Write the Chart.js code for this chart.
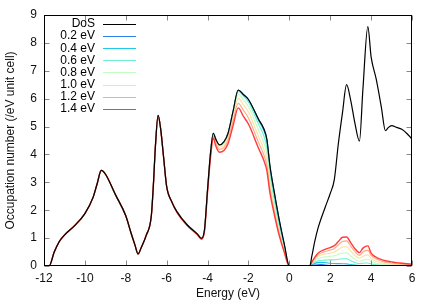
<!DOCTYPE html>
<html lang="en">
<head>
<meta charset="UTF-8">
<title>Occupation number vs energy</title>
<script src="https://cdn.jsdelivr.net/npm/chart.js@4.4.1/dist/chart.umd.min.js"></script>
<style>
  html, body { margin: 0; padding: 0; background: #fff; }
  #wrap { width: 436px; height: 305px; }
</style>
</head>
<body>
<div id="wrap"><canvas id="chart" width="436" height="305"></canvas></div>
<script>
// energy grid (eV), shared by every curve
const energy = [
  -12, -11.75, -11.5, -11.25, -11, -10.5, -10, -9.6, -9.4, -9.2,
  -9, -8.5, -8, -7.75, -7.55, -7.4, -7.25, -7, -6.75, -6.65,
  -6.55, -6.42, -6.3, -6.15, -6, -5.75, -5.5, -5, -4.5, -4.3,
  -4.15, -4, -3.85, -3.72, -3.6, -3.42, -3.2, -3, -2.75, -2.5,
  -2.25, -2, -1.5, -1.25, -1.1, -0.95, -0.75, -0.5, -0.25, 0,
  0.5, 1, 1.1, 1.25, 1.4, 1.75, 2, 2.2, 2.4, 2.6,
  2.8, 3, 3.2, 3.43, 3.6, 3.84, 4, 4.25, 4.5, 4.7,
  4.85, 5, 5.25, 5.5, 5.75, 6
];

const dos = [
  0, 0, 0.5, 0.88, 1.11, 1.45, 1.88, 2.46, 2.95, 3.43,
  3.3, 2.55, 1.8, 1.2, 0.75, 0.43, 0.65, 1.1, 1.8, 2.9,
  4.3, 5.4, 4.95, 3.9, 2.85, 2.3, 1.95, 1.48, 1.15, 0.99,
  1.3, 2.75, 4.1, 4.76, 4.55, 4.34, 4.45, 4.75, 5.55, 6.31,
  6.15, 5.97, 5.25, 4.92, 4.55, 3.6, 2.7, 1.68, 0.8, 0,
  0, 0, 0.35, 0.9, 1.35, 2.1, 2.6, 3.1, 4.4, 5.5,
  6.5, 5.95, 5.15, 4.48, 6.35, 8.58, 7.5, 6.7, 5.7, 4.85,
  4.97, 5.03, 4.97, 4.9, 4.75, 4.55
];

const occ02 = [
  0, 0, 0.5, 0.88, 1.11, 1.45, 1.88, 2.46, 2.95, 3.43,
  3.3, 2.55, 1.8, 1.2, 0.75, 0.43, 0.65, 1.1, 1.8, 2.9,
  4.3, 5.4, 4.95, 3.9, 2.85, 2.3, 1.95, 1.48, 1.15, 0.99,
  1.3, 2.75, 4.1, 4.76, 4.55, 4.34, 4.45, 4.75, 5.55, 6.31,
  6.15, 5.97, 5.25, 4.92, 4.55, 3.6, 2.7, 1.67, 0.78, 0,
  0, 0, 0.04, 0.07, 0.065, 0.035, 0.02, 0.012, 0.008, 0.005,
  0.003, 0.002, 0.001, 0, 0, 0, 0, 0, 0, 0,
  0, 0, 0, 0, 0, 0
];

const occ04 = [
  0, 0, 0.5, 0.88, 1.11, 1.45, 1.88, 2.46, 2.95, 3.43,
  3.3, 2.55, 1.8, 1.2, 0.75, 0.43, 0.65, 1.1, 1.8, 2.9,
  4.3, 5.4, 4.95, 3.9, 2.85, 2.3, 1.95, 1.48, 1.15, 0.99,
  1.3, 2.75, 4.1, 4.76, 4.55, 4.34, 4.45, 4.75, 5.55, 6.3,
  6.14, 5.96, 5.21, 4.86, 4.47, 3.51, 2.59, 1.55, 0.69, 0,
  0, 0, 0.05, 0.1, 0.13, 0.12, 0.1, 0.09, 0.085, 0.08,
  0.075, 0.05, 0.03, 0.02, 0.02, 0.02, 0.012, 0.007, 0.004, 0.003,
  0.002, 0.002, 0.001, 0.001, 0, 0
];

const occ06 = [
  0, 0, 0.5, 0.88, 1.11, 1.45, 1.88, 2.46, 2.95, 3.43,
  3.3, 2.55, 1.8, 1.2, 0.75, 0.43, 0.65, 1.1, 1.8, 2.9,
  4.3, 5.4, 4.95, 3.9, 2.85, 2.3, 1.95, 1.48, 1.15, 0.99,
  1.3, 2.75, 4.1, 4.76, 4.55, 4.33, 4.44, 4.74, 5.53, 6.27,
  6.09, 5.88, 5.07, 4.67, 4.25, 3.3, 2.4, 1.41, 0.62, 0,
  0, 0, 0.07, 0.15, 0.19, 0.21, 0.22, 0.22, 0.24, 0.26,
  0.26, 0.19, 0.13, 0.085, 0.1, 0.11, 0.07, 0.045, 0.03, 0.022,
  0.02, 0.017, 0.013, 0.01, 0.008, 0.006
];

const occ08 = [
  0, 0, 0.5, 0.88, 1.11, 1.45, 1.88, 2.46, 2.95, 3.43,
  3.3, 2.55, 1.8, 1.2, 0.75, 0.43, 0.65, 1.1, 1.8, 2.9,
  4.3, 5.4, 4.95, 3.9, 2.85, 2.3, 1.95, 1.48, 1.15, 0.99,
  1.3, 2.74, 4.08, 4.74, 4.52, 4.31, 4.41, 4.69, 5.46, 6.17,
  5.96, 5.72, 4.85, 4.42, 4.01, 3.1, 2.23, 1.31, 0.58, 0,
  0, 0, 0.09, 0.2, 0.27, 0.33, 0.35, 0.37, 0.42, 0.46,
  0.47, 0.36, 0.25, 0.17, 0.21, 0.24, 0.16, 0.1, 0.07, 0.05,
  0.045, 0.04, 0.03, 0.025, 0.02, 0.015
];

const occ10 = [
  0, 0, 0.5, 0.88, 1.11, 1.45, 1.88, 2.46, 2.95, 3.43,
  3.3, 2.55, 1.8, 1.2, 0.75, 0.43, 0.65, 1.1, 1.8, 2.9,
  4.3, 5.4, 4.95, 3.9, 2.85, 2.3, 1.95, 1.48, 1.14, 0.98,
  1.29, 2.72, 4.05, 4.69, 4.48, 4.26, 4.34, 4.61, 5.34, 6.01,
  5.78, 5.52, 4.63, 4.19, 3.79, 2.92, 2.1, 1.23, 0.54, 0,
  0, 0, 0.11, 0.25, 0.345, 0.43, 0.46, 0.5, 0.59, 0.68,
  0.69, 0.54, 0.38, 0.28, 0.35, 0.4, 0.27, 0.17, 0.12, 0.09,
  0.08, 0.07, 0.055, 0.045, 0.035, 0.025
];

const occ12 = [
  0, 0, 0.5, 0.88, 1.11, 1.45, 1.88, 2.46, 2.95, 3.43,
  3.3, 2.55, 1.8, 1.2, 0.75, 0.43, 0.65, 1.1, 1.8, 2.9,
  4.3, 5.4, 4.95, 3.9, 2.85, 2.3, 1.95, 1.47, 1.13, 0.97,
  1.27, 2.69, 3.99, 4.64, 4.4, 4.18, 4.25, 4.51, 5.2, 5.83,
  5.59, 5.31, 4.42, 3.99, 3.6, 2.77, 2.0, 1.17, 0.52, 0,
  0, 0, 0.125, 0.28, 0.4, 0.52, 0.57, 0.63, 0.76, 0.88,
  0.9, 0.71, 0.52, 0.38, 0.5, 0.57, 0.38, 0.25, 0.18, 0.14,
  0.125, 0.11, 0.088, 0.072, 0.058, 0.043
];

const occ14 = [
  0, 0, 0.5, 0.88, 1.11, 1.45, 1.88, 2.46, 2.95, 3.43,
  3.3, 2.55, 1.8, 1.2, 0.75, 0.43, 0.65, 1.1, 1.8, 2.9,
  4.3, 5.4, 4.95, 3.9, 2.85, 2.3, 1.92, 1.45, 1.12, 0.96,
  1.25, 2.64, 3.92, 4.58, 4.31, 4.08, 4.14, 4.38, 5.04, 5.67,
  5.37, 5.09, 4.21, 3.79, 3.42, 2.63, 1.9, 1.11, 0.5, 0,
  0, 0, 0.14, 0.32, 0.46, 0.6, 0.66, 0.73, 0.88, 1.03,
  1.04, 0.84, 0.63, 0.48, 0.64, 0.72, 0.46, 0.31, 0.23, 0.19,
  0.17, 0.15, 0.12, 0.1, 0.08, 0.06
];

const seriesLabels = ['DoS', '0.2 eV', '0.4 eV', '0.6 eV', '0.8 eV', '1.0 eV', '1.2 eV', '1.4 eV'];
const seriesValues = [dos, occ02, occ04, occ06, occ08, occ10, occ12, occ14];
const seriesColors = ['#000000', '#3080f0', '#20c8e8', '#70f0d0', '#c0ffc0', '#ffe0a0', '#ffa888', '#ff3c3c'];

const FONT = '"Liberation Sans", Arial, sans-serif';

function points(ys) {
  return energy.map((e, i) => ({ x: e, y: ys[i] }));
}

// DoS on top, then hottest curve above the colder ones
const datasets = seriesValues.map((vals, i) => ({
  label: seriesLabels[i],
  data: points(vals),
  borderColor: seriesColors[i],
  borderWidth: i === 0 ? 1.2 : (i === 7 ? 1.4 : 1.1),
  pointRadius: 0,
  fill: false,
  cubicInterpolationMode: 'monotone',
  order: i === 0 ? 0 : 8 - i
}));

// gnuplot-ish frame with inward ticks and the key in the top left
const frame = {
  id: 'frame',
  afterDraw(chart) {
    const { ctx, chartArea: a, scales: { x, y } } = chart;
    const L = Math.round(a.left) + 0.5, R = Math.round(a.right) - 0.5;
    const T = Math.round(a.top) + 0.5, B = Math.round(a.bottom) - 0.5;
    ctx.save();
    ctx.lineWidth = 1;
    ctx.strokeStyle = '#888';
    ctx.beginPath();
    x.ticks.forEach(t => {
      const px = Math.round(x.getPixelForValue(t.value)) + 0.5;
      ctx.moveTo(px, B); ctx.lineTo(px, B - 5);
      ctx.moveTo(px, T); ctx.lineTo(px, T + 5);
    });
    y.ticks.forEach(t => {
      const py = Math.round(y.getPixelForValue(t.value)) + 0.5;
      ctx.moveTo(L, py); ctx.lineTo(L + 5, py);
      ctx.moveTo(R, py); ctx.lineTo(R - 5, py);
    });
    ctx.stroke();
    ctx.strokeStyle = '#000';
    ctx.strokeRect(L, T, R - L, B - T);

    ctx.font = '12px ' + FONT;
    ctx.textAlign = 'right';
    ctx.textBaseline = 'middle';
    seriesLabels.forEach((lab, i) => {
      const yy = 24 + i * 12.1;
      ctx.fillStyle = '#000';
      ctx.fillText(lab, 95, yy);
      ctx.strokeStyle = seriesColors[i];
      ctx.lineWidth = 1.2;
      ctx.beginPath();
      ctx.moveTo(103, Math.round(yy) + 0.5);
      ctx.lineTo(136, Math.round(yy) + 0.5);
      ctx.stroke();
    });
    ctx.restore();
  }
};

new Chart(document.getElementById('chart'), {
  type: 'line',
  data: { datasets },
  options: {
    responsive: false,
    devicePixelRatio: 1,
    animation: false,
    layout: { padding: { top: 15, right: 24, left: 0, bottom: 0 } },
    plugins: { legend: { display: false }, tooltip: { enabled: false } },
    scales: {
      x: {
        type: 'linear',
        min: -12, max: 6,
        grid: { display: false, drawTicks: false },
        border: { display: false },
        ticks: { stepSize: 2, padding: 5, color: '#111', font: { family: FONT, size: 12 } },
        title: { display: true, text: 'Energy (eV)', color: '#111', font: { family: FONT, size: 12 }, padding: { top: 0, bottom: 4 } },
        afterFit(s) { s.height = 39; }
      },
      y: {
        min: 0, max: 9,
        grid: { display: false, drawTicks: false },
        border: { display: false },
        ticks: { stepSize: 1, padding: 7, color: '#111', font: { family: FONT, size: 12 } },
        title: { display: true, text: 'Occupation number (/eV unit cell)', color: '#111', font: { family: FONT, size: 12 }, padding: { top: 3, bottom: 0 } },
        afterFit(s) { s.width = 44; }
      }
    }
  },
  plugins: [frame]
});
</script>
</body>
</html>
